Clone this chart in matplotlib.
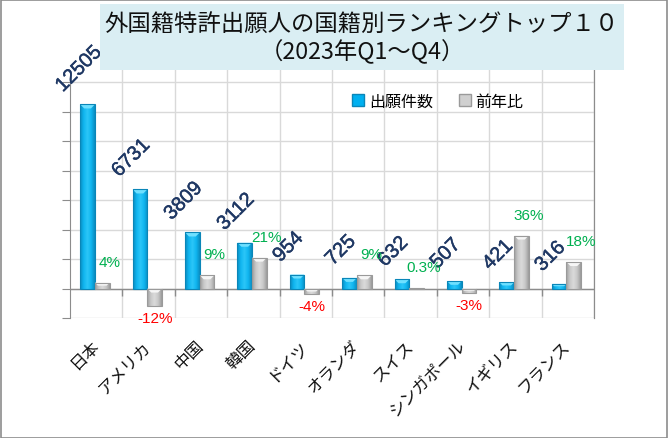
import numpy as np
import matplotlib
matplotlib.use("Agg")
import matplotlib.pyplot as plt
import matplotlib.patheffects as pe
from matplotlib.patches import Rectangle, Patch, Polygon
from matplotlib.colors import LinearSegmentedColormap

# ---------------- data ----------------
countries = ["日本", "アメリカ", "中国", "韓国", "ドイツ", "オランダ", "スイス", "シンガポール", "イギリス", "フランス"]
applications = [12505, 6731, 3809, 3112, 954, 725, 632, 507, 421, 316]
yoy = [0.04, -0.12, 0.09, 0.21, -0.04, 0.09, 0.003, -0.03, 0.36, 0.18]
series_names = ["出願件数", "前年比"]
title_line1 = "外国籍特許出願人の国籍別ランキングトップ１０"
title_line2 = "（2023年Q1～Q4）"

JP = ["Noto Sans CJK JP", "DejaVu Sans"]
LAT = ["Liberation Sans", "Noto Sans CJK JP", "DejaVu Sans"]

W, H = 668, 439
fig = plt.figure(figsize=(W / 100, H / 100), dpi=100)
fig.patch.set_facecolor("white")

ax = fig.add_axes([70 / W, 120 / H, 524 / W, 265 / H])
ax2 = ax.twinx()

n = len(countries)
x = np.arange(n)
bw = 0.28
xb = x - 0.165
xg = x + 0.115

ax.set_xlim(-0.5, n - 0.5)
ax.set_ylim(-2000, 16000)
ax2.set_ylim(-0.2, 1.6)

# grid
ax.set_yticks(np.arange(-2000, 14001, 2000))
ax.tick_params(axis="y", which="major", length=6, color="#8c8c8c", labelleft=False, direction="out")
ax.set_xticks(x + 0.5, minor=True)
ax.set_xticks(x)
ax.set_xticklabels(countries, rotation=45, ha="right", va="center",
                   rotation_mode="anchor", fontsize=12, family=JP, color="#111111")
ax.tick_params(axis="x", which="both", length=0, pad=18)
ax.grid(axis="y", which="major", color="#d9d9d9", lw=1, zorder=0)
ax.grid(axis="x", which="minor", color="#d9d9d9", lw=1, zorder=0)
ax.set_axisbelow(True)

for s in ["top", "bottom"]:
    ax.spines[s].set_visible(False)
    ax2.spines[s].set_visible(False)
ax.spines["left"].set_color("#8c8c8c")
ax.spines["left"].set_bounds(-2000, 14000)
ax.spines["right"].set_color("#8c8c8c")
ax2.spines["left"].set_visible(False)
ax2.spines["right"].set_color("#8c8c8c")
ax2.set_yticks([])

# zero line with tick marks
ax.axhline(0, color="#8c8c8c", lw=1, zorder=2)
px_per_unit = (265) / 18000.0
ax.vlines(x[:-1] + 0.5, -7 / px_per_unit, 0, color="#8c8c8c", lw=1, zorder=2)

# bars
blue_bars = ax.bar(xb, applications, width=bw, color="#00B0F0", edgecolor="#0a86b8", lw=0.8, zorder=3)
gray_bars = ax2.bar(xg, yoy, width=bw, color="#c4c4c4", edgecolor="#9a9a9a", lw=0.8, zorder=3)

cm_blue = LinearSegmentedColormap.from_list("b", ["#0a8cc0", "#10b6f0", "#2cc6f8", "#10b6f0", "#0a8cc0"])
cm_gray = LinearSegmentedColormap.from_list("g", ["#9c9c9c", "#c8c8c8", "#dadada", "#c8c8c8", "#9c9c9c"])
grad = np.linspace(0, 1, 64).reshape(1, -1)

fig.canvas.draw()

def decorate(axis, bars, cmap, bevel_col):
    for r in bars:
        x0, y0 = r.get_x(), r.get_y()
        w, h = r.get_width(), r.get_height()
        ylo, yhi = min(y0, y0 + h), max(y0, y0 + h)
        im = axis.imshow(grad, extent=[x0, x0 + w, ylo, yhi], aspect="auto", cmap=cmap, zorder=3.5,
                         interpolation="bilinear")
        im.set_clip_path(r)
        # top bevel in display space
        (dx0, dy0) = axis.transData.transform((x0, yhi))
        (dx1, dy1) = axis.transData.transform((x0 + w, ylo))
        hpx = dy0 - dy1
        d = min(4.0, hpx / 2.0)
        if d > 0.5:
            poly = Polygon([(dx0, dy0), (dx1, dy0), (dx1 - d, dy0 - d), (dx0 + d, dy0 - d)],
                           closed=True, transform=None, facecolor=bevel_col, edgecolor="none", zorder=3.6)
            axis.add_artist(poly)
        r.set_zorder(3.7)
        r.set_facecolor("none")

decorate(ax, blue_bars, cm_blue, "#6fe0ff")
decorate(ax2, gray_bars, cm_gray, "#f6f6f6")
ax.set_xlim(-0.5, n - 0.5)
ax.set_ylim(-2000, 16000)
ax2.set_ylim(-0.2, 1.6)

# value labels
for xi, v in zip(xb, applications):
    ax.annotate(f"{v}", xy=(xi, v), xytext=(-9, 9), textcoords="offset pixels",
                rotation=45, ha="center", va="bottom", fontsize=14.5, fontweight="normal",
                family=LAT, color="#1f3864", zorder=6,
                path_effects=[pe.withStroke(linewidth=0.3, foreground="#1f3864")])

for xi, v in zip(xg, yoy):
    pct = v * 100
    lab = f"{pct:.1f}%" if abs(pct) < 1 else f"{pct:.0f}%"
    if v >= 0:
        ax2.annotate(lab, xy=(xi, v), xytext=(7, 14), textcoords="offset pixels",
                     ha="center", va="bottom", fontsize=11, family=LAT, color="#00b050", zorder=6)
    else:
        ax2.annotate(lab, xy=(xi, v), xytext=(0, -5), textcoords="offset pixels",
                     ha="center", va="top", fontsize=11, family=LAT, color="#ff0000", zorder=6)

# legend
handles = [Patch(facecolor="#00B0F0", edgecolor="#0a86b8"), Patch(facecolor="#d0d0d0", edgecolor="#9a9a9a")]
fig.legend(handles, series_names, loc="center", bbox_to_anchor=(438 / W, 1 - 102 / H),
           ncol=2, frameon=False, prop={"family": JP, "size": 11.5},
           handlelength=0.75, handleheight=0.75, handletextpad=0.3, columnspacing=1.6)

# title box
fig.add_artist(Rectangle((100 / W, 1 - 70.7 / H), 524 / W, 65.7 / H, transform=fig.transFigure,
                         facecolor="#daeef3", edgecolor="none", zorder=5))
fig.text(362 / W, 1 - 24 / H, title_line1, ha="center", va="center", fontsize=16.8,
         family=JP, color="#111111", zorder=6)
fig.text(362 / W, 1 - 52 / H, title_line2, ha="center", va="center", fontsize=16.8,
         family=JP, color="#111111", zorder=6)

# chart border
fig.add_artist(Rectangle((0.5 / W, 0.5 / H), (W - 1.5) / W, (H - 1.5) / H, transform=fig.transFigure,
                         facecolor="none", edgecolor="#8c8c8c", lw=1.2, zorder=10))

fig.savefig("out.png", dpi=100)
